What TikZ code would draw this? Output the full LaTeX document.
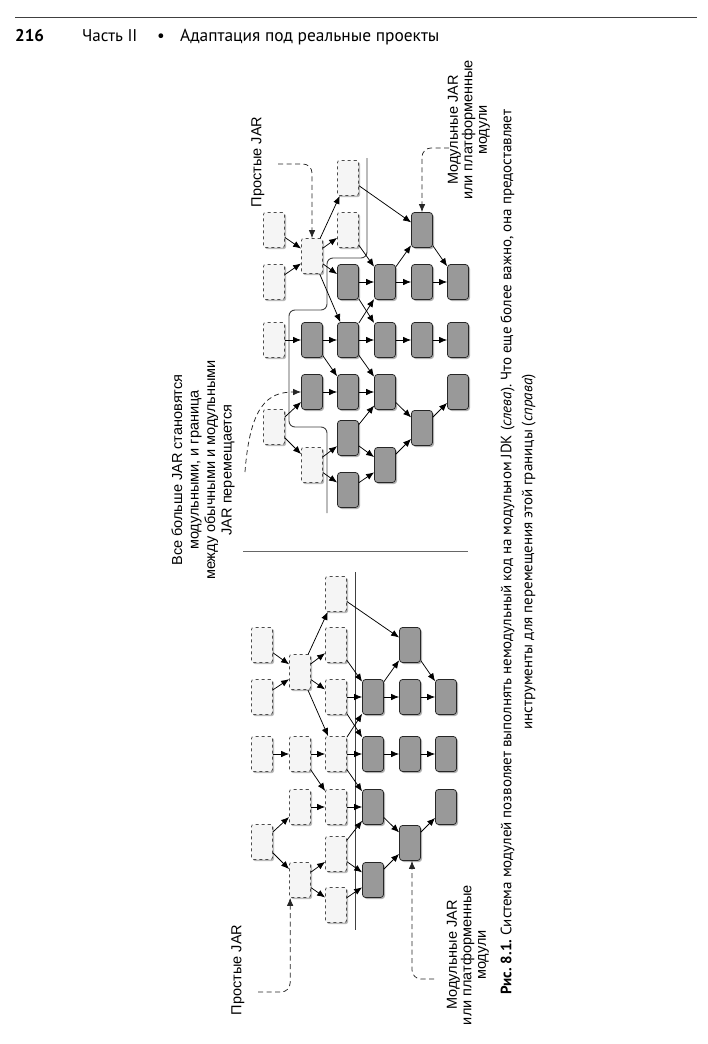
\documentclass[tikz,border=0pt]{standalone}
\usepackage{fontspec}
\setmainfont{PT Sans}
\newfontfamily\arialfont{Liberation Sans}
\usetikzlibrary{arrows.meta, shadows}
\frenchspacing

\tikzset{
    jar/.style={draw=black!70, dashed, fill=black!4, rounded corners=2pt,
        minimum width=21pt, minimum height=35pt, inner sep=0pt, line width=0.75pt,
        drop shadow={shadow xshift=1.5pt, shadow yshift=-1.5pt, fill=black!45, opacity=0.6}},
    modjar/.style={draw=black!85, fill=black!40, rounded corners=3pt,
        minimum width=21pt, minimum height=35pt, inner sep=0pt, line width=0.75pt,
        drop shadow={shadow xshift=1.5pt, shadow yshift=-1.5pt, fill=black!50, opacity=0.6}},
    dep/.style={->, >={Latex[length=8pt,width=6.5pt]}, line width=0.75pt},
    hint/.style={->, >={Latex[length=8pt,width=6.5pt]}, dash pattern=on 5pt off 3.5pt,
        line width=0.75pt, black!85},
    border/.style={line width=0.9pt, black!75},
    lbl/.style={rotate=90, align=center, font=\arialfont\fontsize{14.5}{14.5}\selectfont},
}

\begin{document}
\begin{tikzpicture}[x=1pt, y=-1pt]
\useasboundingbox (0,0) rectangle (708,1044);
\fill[white] (0,0) rectangle (708,1044);

% running head
\draw[line width=0.8pt, black!75] (15,17) -- (697,17);
\node[anchor=base west, inner sep=0pt, font=\fontsize{17}{20}\selectfont\bfseries] (hpage) at (15,41) {216};
\node[anchor=base west, inner sep=0pt, font=\fontsize{17}{20}\selectfont] (hpart) at (82,41) {Часть II};
\node[anchor=base west, inner sep=0pt, font=\fontsize{17}{20}\selectfont] (hdot) at (157,41) {•};
\node[anchor=base west, inner sep=0pt, font=\fontsize{17.4}{20}\selectfont] (htitle) at (180,41) {Адаптация под реальные проекты};

% left: plain JARs on the class path, modular JDK beside them
\draw[border] (355,572) -- (355,930);
\foreach \n/\x/\y in {lc1/336/594, la2/262/645, lc2/336/645, lb3/300/672, la4/262/697,
        lc4/336/697, la5/262/754, lb5/300/754, lc5/336/754, lb6/300/807, lc6/336/807,
        la7/262/842, lc8/336/854, lb9/300/880, lc10/336/905}
    \node[jar] (\n) at (\x,\y) {};
\foreach \n/\x/\y in {le2/410/645, ld4/373/697, le4/410/697, lf4/446/697, ld5/373/754,
        le5/410/754, lf5/446/754, ld6/373/807, lf6/446/807, le7/410/843, ld9/373/880}
    \node[modjar] (\n) at (\x,\y) {};
\foreach \a/\b in {la2/lb3, la4/lb3, lb3/lc1, lb3/lc2, lb3/lc4, lb3/lc5, lc1/le2,
        lc2/ld4, ld4/le2, le2/lf4, lc4/ld4, ld4/le4, le4/lf4, lc4/ld5, lc5/ld4,
        la5/lb5, lb5/lc5, lc5/ld5, ld5/le5, le5/lf5, lb5/lc6, lc5/ld6, lb6/lc6,
        lc6/ld6, la7/lb6, la7/lb9, lc8/ld6, lc8/ld9, lb9/lc8, lb9/lc10, lc10/ld9,
        ld6/le7, ld9/le7, le7/lf6}
    \draw[dep] (\a) -- (\b);

\node[lbl] (lplain) at (238,970) {Простые JAR};
\node[lbl] (lmodular) at (468,955) {Модульные JAR\\или платформенные\\модули};
\coordinate (lp0) at (258,992);
\coordinate (lm0) at (434,979);
\draw[hint, rounded corners=9pt] (lp0) -| ([xshift=1pt]lb9.south west);
\draw[hint, rounded corners=9pt] (lm0) -| ([xshift=2pt]le7.south);

\draw[line width=1pt, black!60] (243,551) -- (468,551);

% right: the border moves as JARs become modules
\draw[border, rounded corners=6pt] (367,158) -- (367,258) -- (327,258) -- (327,310)
    -- (289,310) -- (289,427) -- (327,427) -- (327,513);
\foreach \n/\x/\y in {rc0/348/178, ra1/274/230, rc1/348/230, rb2/312/256, ra3/274/282,
        ra4/274/340, ra6/274/427, rb7/312/465}
    \node[jar] (\n) at (\x,\y) {};
\foreach \n/\x/\y in {re1/422/230, rc3/348/282, rd3/385/282, re3/422/282, rf3/458/282,
        rb4/312/340, rc4/348/340, rd4/385/340, re4/422/340, rf4/458/340,
        rb5/312/392, rc5/348/392, rd5/385/392, rf5/458/392,
        rc6/348/438, re6/422/428, rd7/385/465, rc8/348/490}
    \node[modjar] (\n) at (\x,\y) {};
\foreach \a/\b in {ra1/rb2, ra3/rb2, rb2/rc0, rb2/rc1, rb2/rc3, rb2/rc4, rc0/re1,
        rc1/rd3, rd3/re1, re1/rf3, rc3/rd3, rd3/re3, re3/rf3, rc3/rd4, rc4/rd3,
        ra4/rb4, rb4/rc4, rc4/rd4, rd4/re4, re4/rf4, rb4/rc5, rc4/rd5, rb5/rc5,
        rc5/rd5, ra6/rb5, ra6/rb7, rb7/rc6, rb7/rc8, rc6/rd5, rc6/rd7, rc8/rd7,
        rd5/re6, rd7/re6, re6/rf5}
    \draw[dep] (\a) -- (\b);

\node[lbl] (rplain) at (258,162) {Простые JAR};
\node[lbl] (rmodular) at (469,130) {Модульные JAR\\или платформенные\\модули};
\node[lbl, font=\arialfont\fontsize{14.5}{16.5}\selectfont] (rmove) at (203,470)
    {Все больше JAR становятся\\модульными, и граница\\между обычными и модульными\\JAR перемещается};
\coordinate (rp0) at (278,164);
\coordinate (rm0) at (449,148);
\coordinate (rv0) at (245,472);
\draw[hint, rounded corners=9pt] (rp0) -| (rb2.north);
\draw[hint, rounded corners=9pt] (rm0) -| (re1.north);
\draw[hint] (rv0) .. controls (250,405) and (268,392) .. (rb5.west);

% caption
\node[rotate=90, align=center, font=\fontsize{15}{21}\selectfont] (caption) at (518,552)
    {\textbf{Рис. 8.1.} Система модулей позволяет выполнять немодульный код на модульном JDK (\textit{слева}). Что еще более важно, она предоставляет\\инструменты для перемещения этой границы (\textit{справа})};
\end{tikzpicture}
\end{document}
